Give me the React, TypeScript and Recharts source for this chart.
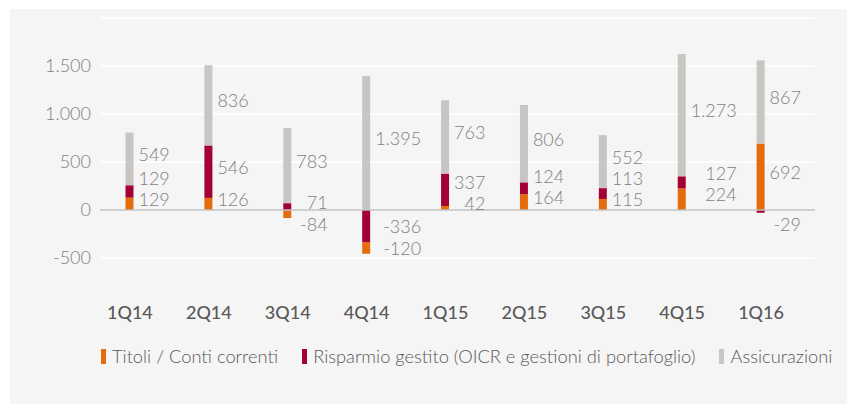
import React from "react";
import {
  BarChart,
  Bar,
  XAxis,
  YAxis,
  CartesianGrid,
  ReferenceLine,
  Legend,
  LabelList,
} from "recharts";

const quarters = ["1Q14", "2Q14", "3Q14", "4Q14", "1Q15", "2Q15", "3Q15", "4Q15", "1Q16"];
const titoli = [129, 126, -84, -120, 42, 164, 115, 224, 692];
const risparmio = [129, 546, 71, -336, 337, 124, 113, 127, -29];
const assicurazioni = [549, 836, 783, 1395, 763, 806, 552, 1273, 867];
const yTicks = [-500, 0, 500, 1000, 1500];

const SERIES = [
  { key: "t", name: "Titoli / Conti correnti", color: "#e46c0a" },
  { key: "r", name: "Risparmio gestito (OICR e gestioni di portafoglio)", color: "#a50034" },
  { key: "a", name: "Assicurazioni", color: "#c9c5c2" },
];

const FONT = "Lato, 'Open Sans', sans-serif";

// stack positives as titoli -> risparmio -> assicurazioni, negatives with risparmio next to zero
const rows = quarters.map((q, i) => {
  const vals: Record<string, number> = { t: titoli[i], r: risparmio[i], a: assicurazioni[i] };
  const row: any = { q, tv: vals.t, rv: vals.r, av: vals.a };
  let pos = 0;
  for (const k of ["t", "r", "a"]) {
    if (vals[k] >= 0) {
      row[k] = [pos, pos + vals[k]];
      pos += vals[k];
    }
  }
  let neg = 0;
  for (const k of ["r", "t", "a"]) {
    if (vals[k] < 0) {
      row[k] = [neg + vals[k], neg];
      neg += vals[k];
    }
  }
  return row;
});

const fmt = (n: number) => {
  const s = String(Math.abs(n)).replace(/\B(?=(\d{3})+(?!\d))/g, ".");
  return n < 0 ? "-" + s : s;
};

let ctx: CanvasRenderingContext2D | null = null;
const measure = (s: string) => {
  if (!ctx) ctx = document.createElement("canvas").getContext("2d");
  if (!ctx) return s.length * 10;
  ctx.font = `300 18px ${FONT}`;
  return ctx.measureText(s).width;
};

// draws all three value labels of a quarter, using the grey bar to map values to pixels
const QuarterLabels = (props: any) => {
  const vb = props.viewBox || props;
  const { x, y, width, height } = vb;
  const row = rows[props.index];
  if (!row) return null;
  const [lo, hi] = row.a;
  const top = Math.min(y, y + height);
  const ppu = Math.abs(height) / (hi - lo);
  const px = (u: number) => top + (hi - u) * ppu;
  const zero = px(0);
  const GAP = 21;

  const items = ["t", "r", "a"].map((k) => {
    const [a, b] = row[k];
    const v = row[k + "v"];
    let yy = px((a + b) / 2);
    if (v >= 0) yy -= 5;
    else yy = Math.max(yy, zero + 14);
    return { k, v, y: yy };
  });
  const pos = items.filter((d) => d.v >= 0).sort((m, n) => n.y - m.y);
  const neg = items.filter((d) => d.v < 0).sort((m, n) => m.y - n.y);
  if (pos.length && neg.length && neg[0].y - pos[0].y < GAP) {
    const need = GAP - (neg[0].y - pos[0].y);
    pos[0].y -= need / 2;
    neg[0].y += need / 2;
  }
  for (let i = 1; i < pos.length; i++) pos[i].y = Math.min(pos[i].y, pos[i - 1].y - GAP);
  for (let i = 1; i < neg.length; i++) neg[i].y = Math.max(neg[i].y, neg[i - 1].y + GAP);

  const maxW = Math.max(...items.map((d) => measure(fmt(d.v))));
  const right = x + width + 5 + maxW;
  return (
    <g>
      {items.map((d) => (
        <text
          key={d.k}
          x={right}
          y={d.y}
          textAnchor="end"
          dominantBaseline="central"
          fontFamily={FONT}
          fontWeight={300}
          fontSize={18}
          fill="#7f7f7f"
        >
          {fmt(d.v)}
        </text>
      ))}
    </g>
  );
};

const QuarterTick = (props: any) => {
  const { x, y, payload } = props;
  return (
    <text
      x={x}
      y={y + 52}
      textAnchor="middle"
      dominantBaseline="central"
      fontFamily={FONT}
      fontWeight={500}
      fontSize={18}
      fill="#595959"
    >
      {payload.value}
    </text>
  );
};

const LegendContent = () => (
  <div
    style={{
      display: "flex",
      alignItems: "center",
      height: 24,
      paddingLeft: 91,
      fontFamily: FONT,
      fontWeight: 300,
      fontSize: 18.3,
      color: "#595959",
      whiteSpace: "nowrap",
    }}
  >
    {SERIES.map((s) => (
      <div key={s.key} style={{ display: "flex", alignItems: "center", marginRight: 24 }}>
        <span style={{ width: 5, height: 15, background: s.color, marginRight: 6 }} />
        <span>{s.name}</span>
      </div>
    ))}
  </div>
);

export default function App() {
  return (
    <div
      style={{
        position: "absolute",
        left: 10,
        top: 9,
        width: 860,
        height: 420,
        background: "#f5f5f5",
      }}
    >
      <style>{"html,body{overflow:hidden}"}</style>
      <BarChart
        width={837}
        height={395}
        data={rows}
        margin={{ top: 9, right: 32, left: 0, bottom: 36 }}
        barSize={8}
        barGap={-8}
      >
        <CartesianGrid vertical={false} stroke="#ffffff" strokeWidth={1.3} />
        <XAxis
          dataKey="q"
          height={86}
          axisLine={false}
          tickLine={false}
          tickSize={0}
          padding={{ left: -9.5, right: 14.5 }}
          tick={<QuarterTick />}
          interval={0}
        />
        <YAxis
          width={90}
          domain={[-500, 2000]}
          ticks={yTicks}
          axisLine={false}
          tickLine={false}
          tickSize={0}
          tickMargin={9}
          tickFormatter={fmt}
          tick={{ fontFamily: FONT, fontWeight: 300, fontSize: 18, fill: "#7f7f7f" }}
        />
        <ReferenceLine y={0} stroke="#c0c0c0" strokeWidth={1.6} />
        {SERIES.map((s) => (
          <Bar key={s.key} dataKey={s.key} name={s.name} fill={s.color} isAnimationActive={false}>
            {s.key === "a" && <LabelList dataKey="av" content={<QuarterLabels />} />}
          </Bar>
        ))}
        <Legend
          verticalAlign="bottom"
          align="left"
          wrapperStyle={{ left: 0, width: 860 }}
          content={<LegendContent />}
        />
      </BarChart>
    </div>
  );
}
